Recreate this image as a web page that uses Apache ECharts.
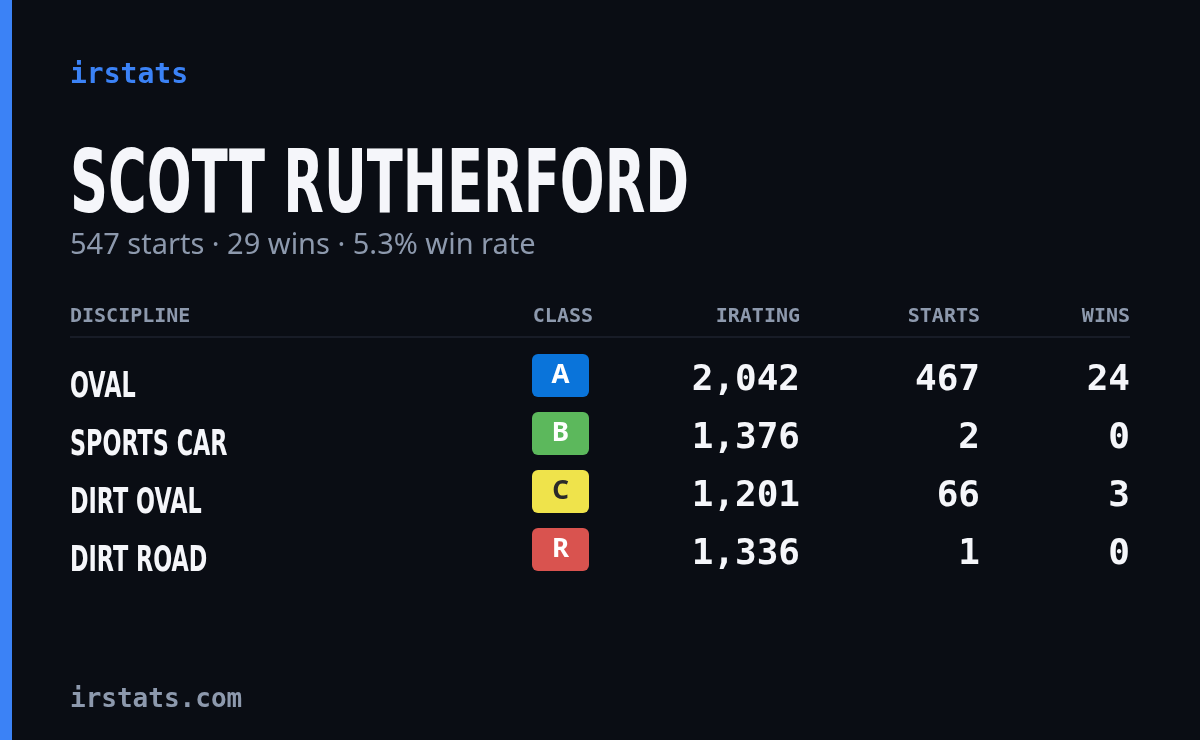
<!DOCTYPE html>
<html><head><meta charset="utf-8">
<script src="https://cdn.jsdelivr.net/npm/echarts@6/dist/echarts.min.js"></script>
<style>html,body{margin:0;background:#0a0d14}#c{width:1200px;height:740px}</style>
</head><body><div id="c"></div>
<script>
const disciplines = ['OVAL','SPORTS CAR','DIRT OVAL','DIRT ROAD'];
const classes = ['A','B','C','R'];
const iratings = [2042,1376,1201,1336];
const starts = [467,2,66,1];
const wins = [24,0,3,0];
const headers = ['DISCIPLINE','CLASS','IRATING','STARTS','WINS'];
const summaryStarts = 547;
const summaryWins = 29;
const summaryRate = '5.3%';
const classColors = {A:'#0a74da',B:'#5cb85c',C:'#efe34b',R:'#d9534f'};
const classText = {A:'#ffffff',B:'#ffffff',C:'#2a2a2a',R:'#ffffff'};

const mono = '"DejaVu Sans Mono", "Liberation Mono", monospace';
const cond = '"DejaVu Sans", sans-serif';
const fmt = n => n.toLocaleString('en-US');

const g = [];
g.push({type:'rect',shape:{x:0,y:0,width:12,height:740},style:{fill:'#3b82f6'}});
g.push({type:'text',x:70,y:76,style:{text:'irstats',font:'bold 28px '+mono,fill:'#3b82f6',verticalAlign:'middle'}});
g.push({type:'text',x:70,y:189,scaleX:0.6,style:{text:'SCOTT RUTHERFORD',font:'bold 88px '+cond,fill:'#f5f6fa',verticalAlign:'middle'}});
g.push({type:'text',x:70,y:246,style:{text:summaryStarts+' starts · '+summaryWins+' wins · '+summaryRate+' win rate',font:'29px "Noto Sans", sans-serif',fill:'#8d99ad',verticalAlign:'middle'}});
const hx = [70,593,800,980,1130];
headers.forEach((h,i)=>g.push({type:'text',x:hx[i],y:317,style:{text:h,font:'bold 20px '+mono,fill:'#8d99ad',align:i===0?'left':'right',verticalAlign:'middle'}}));
g.push({type:'rect',shape:{x:70,y:336,width:1060,height:2},style:{fill:'#181c27'}});
disciplines.forEach((d,i)=>{
  const y = 377 + i*58;
  g.push({type:'text',x:70,y:y+11,scaleX:0.62,style:{text:d,font:'bold 36px '+cond,fill:'#f5f6fa',verticalAlign:'middle'}});
  const c = classes[i];
  g.push({type:'rect',shape:{x:532,y:y-23,width:57,height:43,r:6},style:{fill:classColors[c]}});
  g.push({type:'text',x:560.5,y:y-1,style:{text:c,font:'bold 26px "Noto Sans", sans-serif',fill:classText[c],align:'center',verticalAlign:'middle'}});
  [[fmt(iratings[i]),800],[String(starts[i]),980],[String(wins[i]),1130]].forEach(([t,x])=>
    g.push({type:'text',x:x,y:y+4,style:{text:t,font:'bold 36px '+mono,fill:'#f5f6fa',align:'right',verticalAlign:'middle'}}));
});
g.push({type:'text',x:70,y:700,style:{text:'irstats.com',font:'bold 26px '+mono,fill:'#8d99ad',verticalAlign:'middle'}});

const chart = echarts.init(document.getElementById('c'));
chart.setOption({backgroundColor:'#0a0d14',animation:false,graphic:g});
</script></body></html>
